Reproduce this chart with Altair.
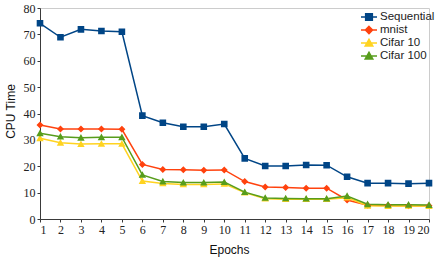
import altair as alt
import pandas as pd

# CPU time per training epoch for each run
epochs = list(range(1, 21))
series_names = ["Sequential", "mnist", "Cifar 10", "Cifar 100"]
sequential = [74.2, 68.9, 71.9, 71.3, 71.0, 39.2, 36.5, 35.0, 35.0, 36.0,
              23.0, 20.1, 20.1, 20.5, 20.4, 16.0, 13.6, 13.6, 13.4, 13.6]
mnist = [35.6, 34.1, 34.1, 34.1, 34.0, 20.7, 18.8, 18.7, 18.5, 18.6,
         14.2, 12.1, 11.9, 11.7, 11.7, 7.2, 5.2, 5.1, 5.0, 5.0]
cifar10 = [30.6, 28.9, 28.4, 28.5, 28.5, 14.4, 13.5, 13.1, 13.1, 13.3,
           10.0, 7.7, 7.5, 7.5, 7.5, 8.1, 5.0, 4.9, 5.0, 4.9]
cifar100 = [32.5, 31.2, 30.8, 31.0, 31.0, 16.7, 14.2, 13.8, 13.8, 14.0,
            10.2, 8.0, 7.8, 7.7, 7.7, 8.7, 5.6, 5.4, 5.4, 5.3]

colors = ["#004586", "#ff420e", "#ffd320", "#579d1c"]
# marker paths: a zero-area line stub (only visible when stroked, i.e. in the legend)
# followed by the filled marker shape; one path unit = sqrt(size)/2 px
shapes = [
    "M-1.6,0H1.6M-0.66,-0.66H0.66V0.66H-0.66Z",
    "M-1.6,0H1.6M0,-0.7L0.7,0L0,0.7L-0.7,0Z",
    "M-1.6,0H1.6M0,-0.74L0.74,0.58L-0.74,0.58Z",
    "M-1.6,0H1.6M0,-0.74L0.74,0.58L-0.74,0.58Z",
]
marker_size = 100
tick_font = "Liberation Serif, Times New Roman, serif"

rows = []
for name, vals in zip(series_names, [sequential, mnist, cifar10, cifar100]):
    for e, v in zip(epochs, vals):
        rows.append({"epoch": e, "series": name, "cpu": v})
df = pd.DataFrame(rows)

legend = alt.Legend(
    title=None, orient="none", legendX=323, legendY=3, padding=0,
    symbolSize=marker_size, symbolStrokeWidth=1.6, symbolOpacity=1,
    labelFont="Liberation Sans", labelFontSize=11.5, labelColor="#222222",
    labelOffset=5, rowPadding=-1.5,
)
color_scale = alt.Scale(domain=series_names, range=colors)
shape_scale = alt.Scale(domain=series_names, range=shapes)

x = alt.X("epoch:Q", title="Epochs",
          scale=alt.Scale(domain=[1, 20], nice=False, zero=False),
          axis=alt.Axis(values=epochs, format="d", titlePadding=9, titleX=189,
                        labelFont=tick_font, labelFontSize=12))
y = alt.Y("cpu:Q", title="CPU Time",
          scale=alt.Scale(domain=[0, 80], nice=False),
          axis=alt.Axis(values=list(range(0, 81, 10)), titlePadding=5.5, titleY=103,
                        labelFont=tick_font, labelFontSize=12))

lines = alt.Chart(df).mark_line(strokeWidth=1.5).encode(
    x=x, y=y,
    color=alt.Color("series:N", scale=color_scale, legend=legend),
)

points = alt.Chart(df).mark_point(filled=True, size=marker_size, strokeWidth=0, opacity=1).encode(
    x=x, y=y,
    color=alt.Color("series:N", scale=color_scale, legend=legend),
    shape=alt.Shape("series:N", scale=shape_scale, legend=legend),
)

chart = alt.layer(lines, points).properties(
    width=389, height=211,
    padding={"left": 40, "top": 8, "right": 7, "bottom": 41},
    autosize=alt.AutoSizeParams(type="none"),
    background="white",
).configure_view(
    stroke="#cccccc", strokeWidth=1,
).configure_axis(
    grid=False,
    domainColor="#3a3a3a", tickColor="#3a3a3a", tickSize=3,
    labelColor="#222222", labelPadding=2,
    titleFont="Liberation Sans", titleFontSize=12, titleFontWeight="normal", titleColor="#111111",
)

chart.save("out.html", embed_options={"renderer": "svg", "actions": False})
